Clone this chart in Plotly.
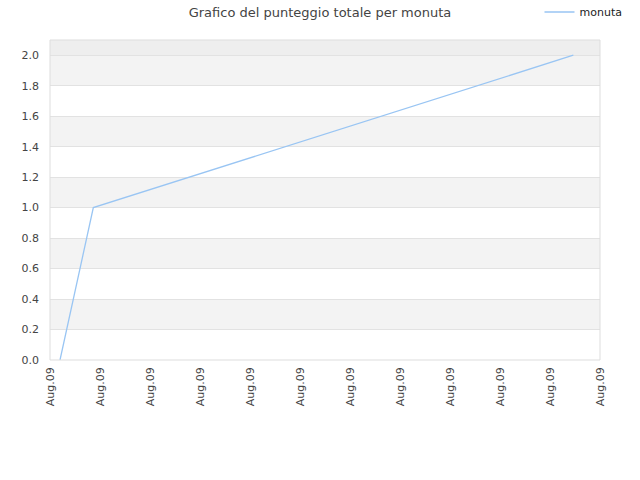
import plotly.graph_objects as go

# Data
times = ["2013-08-09 00:12", "2013-08-09 00:52", "2013-08-09 10:28"]
scores = [0, 1, 2]
series_name = "monuta"
y_ticks = [0.0, 0.2, 0.4, 0.6, 0.8, 1.0, 1.2, 1.4, 1.6, 1.8, 2.0]
x_range = ["2013-08-09 00:00", "2013-08-09 11:00"]
y_max = 2.1

fig = go.Figure()
fig.add_trace(go.Scatter(
    x=times, y=scores, mode="lines", name=series_name,
    line=dict(color="#99c5f3", width=1.3),
))

shapes = []
for i in range(len(y_ticks) - 1):
    if i % 2 == 1:
        shapes.append(dict(type="rect", xref="paper", yref="y", x0=0, x1=1,
                           y0=y_ticks[i], y1=y_ticks[i + 1],
                           fillcolor="#f3f3f3", line=dict(width=0), layer="below"))
shapes.append(dict(type="rect", xref="paper", yref="y", x0=0, x1=1,
                   y0=y_ticks[-1], y1=y_max,
                   fillcolor="#eeeeee", line=dict(width=0), layer="below"))
shapes.append(dict(type="rect", xref="paper", yref="paper", x0=0, x1=1, y0=0, y1=1,
                   fillcolor="rgba(0,0,0,0)", line=dict(color="#dddddd", width=1)))

fig.update_layout(
    width=640, height=480,
    margin=dict(l=50, r=40, t=40, b=120, autoexpand=False),
    paper_bgcolor="white", plot_bgcolor="white",
    font=dict(family="DejaVu Sans", size=11, color="#444444"),
    title=dict(text="Grafico del punteggio totale per monuta", x=0.5, xanchor="center",
               y=0.975, yanchor="middle",
               font=dict(family="DejaVu Sans", size=13, color="#444444")),
    showlegend=True,
    legend=dict(x=1.05, xanchor="right", y=1.0875, yanchor="middle",
                itemwidth=30,
                font=dict(size=11, color="#222222"), bgcolor="rgba(0,0,0,0)"),
    shapes=shapes,
    xaxis=dict(type="date", range=x_range, dtick=3600000, tickformat="%b.%d",
               tickangle=-90, showgrid=False, zeroline=False, showline=False,
               ticks="", ticklabelstandoff=4, tickfont=dict(size=11, color="#444444")),
    yaxis=dict(range=[0, y_max], tickvals=y_ticks, tickformat=".1f",
               showgrid=True, gridcolor="#e2e2e2", gridwidth=1, zeroline=False,
               showline=False, ticks="", ticklabelstandoff=10,
               tickfont=dict(size=11, color="#444444")),
)

fig.write_html("out.html", config={"displayModeBar": False},
               post_script="document.body.style.margin='0';")
